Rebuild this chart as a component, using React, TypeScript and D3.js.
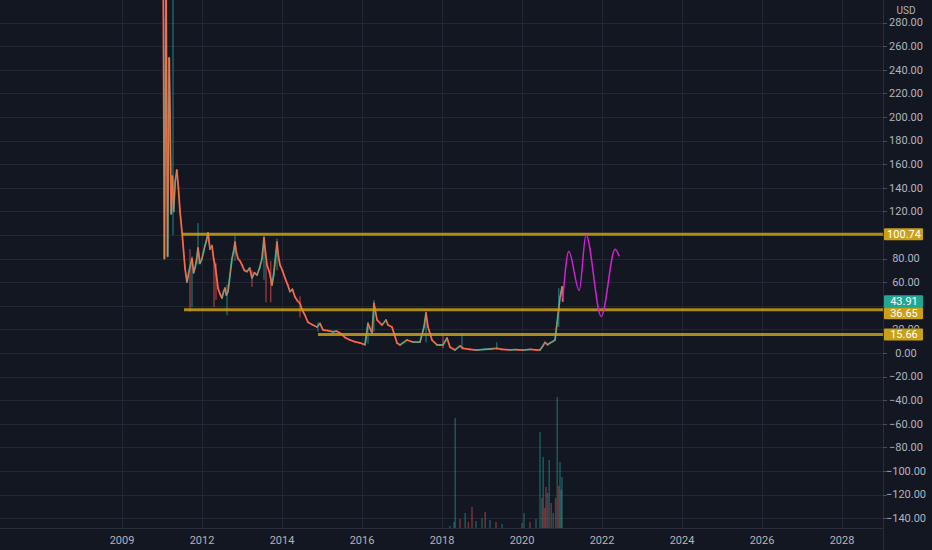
import React, { useEffect, useRef } from "react";
import * as d3 from "d3";

const WIDTH = 932;
const HEIGHT = 550;

// --- Price history (fractional year, close)
const priceYears = [
  2011.03, 2011.06, 2011.1, 2011.14, 2011.18, 2011.2, 2011.23, 2011.26, 2011.29, 2011.33,
  2011.37, 2011.41, 2011.45, 2011.5, 2011.575, 2011.625, 2011.68, 2011.75, 2011.79, 2011.825,
  2011.86, 2011.9, 2011.95, 2012.0, 2012.04, 2012.075, 2012.11, 2012.15, 2012.2, 2012.25,
  2012.29, 2012.325, 2012.36, 2012.4, 2012.45, 2012.5, 2012.54, 2012.575, 2012.61, 2012.65,
  2012.7, 2012.75, 2012.79, 2012.825, 2012.86, 2012.9, 2012.95, 2013.0, 2013.06, 2013.125,
  2013.19, 2013.25, 2013.31, 2013.375, 2013.44, 2013.5, 2013.55, 2013.59, 2013.625, 2013.69,
  2013.75, 2013.79, 2013.825, 2013.875, 2013.91, 2013.95, 2014.01, 2014.075, 2014.14, 2014.2,
  2014.26, 2014.325, 2014.39, 2014.45, 2014.51, 2014.575, 2014.65, 2014.76, 2014.875, 2014.95,
  2015.025, 2015.15, 2015.275, 2015.36, 2015.45, 2015.58, 2015.7, 2015.83, 2015.95, 2016.075,
  2016.15, 2016.25, 2016.3, 2016.375, 2016.5, 2016.6, 2016.65, 2016.75, 2016.875, 2016.95,
  2017.125, 2017.275, 2017.45, 2017.55, 2017.6, 2017.65, 2017.75, 2017.875, 2018.025, 2018.125,
  2018.2, 2018.325, 2018.45, 2018.525, 2018.7, 2018.875, 2019.05, 2019.2, 2019.37, 2019.5,
  2019.7, 2019.85, 2020.025, 2020.2, 2020.35, 2020.45, 2020.52, 2020.575, 2020.64, 2020.7,
  2020.78, 2020.825, 2020.875, 2020.92, 2020.95, 2020.98, 2021.0, 2021.02,
];
const priceCloses = [
  330, 80, 320, 82, 250, 205, 118, 150, 120, 145,
  155, 140, 120, 102.5, 72, 60, 70, 80, 68, 72,
  78, 89, 76, 80, 86, 91, 95, 101.7, 88, 91,
  80, 74.6, 66, 55, 50, 46.6, 52, 55, 49, 52,
  66, 80, 86, 94, 85, 80, 78, 74.6, 70, 69,
  72, 63.6, 68, 66, 72, 80, 97.5, 84, 74.6, 68,
  57.6, 66, 77, 94, 82, 74.6, 70, 63.6, 58, 52,
  54, 47.5, 44, 42, 36, 32, 26, 24, 22, 25,
  19.5, 19, 18, 18.5, 17, 13, 11, 9.5, 8.5, 7,
  25, 17, 42, 28, 23.7, 28, 23.7, 22, 8.5, 6.8,
  11, 9.3, 9.3, 22, 34, 22, 11, 6.8, 6.8, 12.7,
  5, 2.5, 6, 4, 3, 2.5, 3, 3.4, 4, 3,
  2.6, 2.8, 2.5, 3, 2.7, 2.5, 6, 9, 7, 8.5,
  10, 11, 25, 38, 47, 52, 56, 43.91,
];

// --- Long wicks (fractional year, low, high, up candle?)
const wickYears = [
  2011.275, 2011.7, 2011.75, 2011.9, 2012.3, 2012.35, 2012.625, 2012.825, 2013.25, 2013.55,
  2013.6, 2013.72, 2013.875, 2014.45, 2014.9, 2016.15, 2016.3, 2017.6, 2018.025, 2018.5,
  2019.37, 2020.92,
];
const wickLows = [100, 35, 39, 75, 39, 45, 32, 78, 56, 62, 43, 43, 70, 30, 18, 8, 18, 9, 4, 3, 2.5, 22];
const wickHighs = [330, 88, 82, 110, 80, 76, 58, 100, 70, 100, 78, 78, 97, 48, 26, 26, 45, 35, 15, 17, 9, 55];
const wickUp = [
  true, false, true, true, false, false, true, true, false, true,
  false, false, true, false, true, true, true, true, false, true,
  true, true,
];

// --- Volume (fractional year, volume in thousands, up candle?)
const volumeYears = [
  2018.2, 2018.3, 2018.33, 2018.45, 2018.58, 2018.66, 2018.75, 2018.85, 2019.0, 2019.08,
  2019.2, 2019.35, 2019.5, 2020.0, 2020.05, 2020.2, 2020.35, 2020.45, 2020.5, 2020.53,
  2020.57, 2020.6, 2020.64, 2020.68, 2020.73, 2020.78, 2020.84, 2020.88, 2020.92, 2020.95,
  2020.98, 2021.0,
];
const volumeValues = [
  20, 60, 1100, 90, 150, 60, 210, 70, 100, 160,
  80, 60, 40, 50, 150, 60, 90, 960, 300, 710,
  200, 410, 350, 680, 250, 150, 300, 1310, 420, 660,
  380, 510,
];
const volumeUp = [
  true, true, true, false, true, false, false, true, true, false,
  true, false, true, true, true, false, true, true, false, true,
  false, false, true, true, false, true, false, true, false, true,
  true, true,
];

// --- Horizontal levels
const levelValues = [100.74, 36.65, 15.66];
const levelStartYears = [2011.5, 2011.55, 2014.9];
const lastPrice = 43.91;

// --- Projection sketch (magenta)
const projYears = [2021.02, 2021.17, 2021.43, 2021.6, 2021.98, 2022.33, 2022.43];
const projValues = [46, 86, 53, 100, 31, 88, 82];

// --- Axis ticks
const yearTicks = [2010, 2012, 2014, 2016, 2018, 2020, 2022, 2024, 2026, 2028];
const yearLabels = ["2009", "2012", "2014", "2016", "2018", "2020", "2022", "2024", "2026", "2028"];
const priceTicks = [-140, -120, -100, -80, -60, -40, -20, 0, 20, 40, 60, 80, 100, 120, 140, 160, 180, 200, 220, 240, 260, 280];

const App: React.FC = () => {
  const ref = useRef<SVGSVGElement | null>(null);

  useEffect(() => {
    if (!ref.current) return;
    const root = d3.select(ref.current);
    root.selectAll("*").remove();

    const plotRight = 883;
    const plotBottom = 528;
    const bg = "#131722";
    const grid = "#232733";
    const textColor = "#b2b5be";
    const upColor = "#26a69a";
    const downColor = "#ef5350";
    const gold = "#c9a017";
    const font = "Roboto, 'Noto Sans', sans-serif";
    const boxH = 12;

    const x = d3.scaleLinear().domain([2012, 2028]).range([202, 842]);
    const y = d3.scaleLinear().domain([0, 280]).range([353, 22.6]);
    const vol = d3.scaleLinear().domain([0, 1310]).range([plotBottom, 397]);

    root.attr("width", WIDTH).attr("height", HEIGHT);
    root.append("rect").attr("width", WIDTH).attr("height", HEIGHT).attr("fill", bg);

    const defs = root.append("defs");
    defs
      .append("clipPath")
      .attr("id", "plot-clip")
      .append("rect")
      .attr("width", plotRight)
      .attr("height", plotBottom);

    const plot = root.append("g").attr("clip-path", "url(#plot-clip)");

    // Grid
    plot
      .selectAll(".hgrid")
      .data(priceTicks)
      .join("line")
      .attr("x1", 0)
      .attr("x2", plotRight)
      .attr("y1", (d) => Math.round(y(d)) + 0.5)
      .attr("y2", (d) => Math.round(y(d)) + 0.5)
      .attr("stroke", grid);
    plot
      .selectAll(".vgrid")
      .data(yearTicks)
      .join("line")
      .attr("x1", (d) => Math.round(x(d)) + 0.5)
      .attr("x2", (d) => Math.round(x(d)) + 0.5)
      .attr("y1", 0)
      .attr("y2", plotBottom)
      .attr("stroke", grid);

    // Volume
    plot
      .selectAll(".vol")
      .data(volumeYears)
      .join("rect")
      .attr("x", (d) => x(d) - 0.75)
      .attr("width", 1.5)
      .attr("y", (d, i) => vol(volumeValues[i]))
      .attr("height", (d, i) => plotBottom - vol(volumeValues[i]))
      .attr("fill", (d, i) => (volumeUp[i] ? upColor : downColor))
      .attr("opacity", 0.45);

    // Wicks
    plot
      .selectAll(".wick")
      .data(wickYears)
      .join("line")
      .attr("x1", (d) => x(d))
      .attr("x2", (d) => x(d))
      .attr("y1", (d, i) => y(wickHighs[i]))
      .attr("y2", (d, i) => y(wickLows[i]))
      .attr("stroke", (d, i) => (wickUp[i] ? upColor : downColor))
      .attr("stroke-width", 1)
      .attr("opacity", 0.8);

    // Candle-ish segments
    const pts = priceYears.map((yr, i) => ({ yr, v: priceCloses[i] }));
    plot
      .selectAll(".seg")
      .data(pts.slice(1))
      .join("line")
      .attr("x1", (d, i) => x(pts[i].yr))
      .attr("y1", (d, i) => y(pts[i].v))
      .attr("x2", (d) => x(d.yr))
      .attr("y2", (d) => y(d.v))
      .attr("stroke", (d, i) => (d.v >= pts[i].v ? upColor : downColor))
      .attr("stroke-width", 1.8)
      .attr("stroke-linecap", "round");

    const line = d3
      .line<{ yr: number; v: number }>()
      .x((d) => x(d.yr))
      .y((d) => y(d.v));
    plot
      .append("path")
      .datum(pts)
      .attr("d", line)
      .attr("fill", "none")
      .attr("stroke", "#f57f3a")
      .attr("stroke-width", 1)
      .attr("opacity", 0.75);

    // Levels
    plot
      .selectAll(".level")
      .data(levelValues)
      .join("line")
      .attr("x1", (d, i) => x(levelStartYears[i]))
      .attr("x2", plotRight)
      .attr("y1", (d) => y(d))
      .attr("y2", (d) => y(d))
      .attr("stroke", gold)
      .attr("stroke-width", 3)
      .attr("opacity", 0.85);

    // Projection
    const proj = d3
      .line<number>()
      .x((d, i) => x(projYears[i]))
      .y((d) => y(d))
      .curve(d3.curveMonotoneX);
    plot
      .append("path")
      .datum(projValues)
      .attr("d", proj)
      .attr("fill", "none")
      .attr("stroke", "#d420d4")
      .attr("stroke-width", 1.5);

    // Axis borders
    root
      .append("line")
      .attr("x1", plotRight + 0.5)
      .attr("x2", plotRight + 0.5)
      .attr("y1", 0)
      .attr("y2", HEIGHT)
      .attr("stroke", "#2a2e39");
    root
      .append("line")
      .attr("x1", 0)
      .attr("x2", plotRight)
      .attr("y1", plotBottom + 0.5)
      .attr("y2", plotBottom + 0.5)
      .attr("stroke", "#2a2e39");

    // Price boxes, pushed apart like the price scale does
    const boxes = [
      { v: lastPrice, color: "#22a892" },
      ...levelValues.map((v) => ({ v, color: gold })),
    ]
      .map((b) => ({ ...b, cy: y(b.v) }))
      .sort((a, b) => a.cy - b.cy);
    for (let i = 1; i < boxes.length; i++) {
      if (boxes[i].cy - boxes[i - 1].cy < boxH) boxes[i].cy = boxes[i - 1].cy + boxH;
    }

    // a tick label is dropped when the boxes hide all of it
    const hidden = (cy: number) => {
      const top = cy - 4;
      const bottom = cy + 4;
      let pos = top;
      for (const b of boxes) {
        const b0 = b.cy - boxH / 2;
        const b1 = b.cy + boxH / 2;
        if (b0 <= pos + 0.01 && b1 > pos) pos = b1;
      }
      return pos >= bottom;
    };
    const visibleTicks = priceTicks.filter((d) => !hidden(y(d)));

    // labels half hidden by a box only show the part between boxes
    const gapClip = defs.append("clipPath").attr("id", "gap-clip");
    gapClip.append("rect").attr("x", plotRight).attr("y", 0).attr("width", 60).attr("height", boxes[0].cy - boxH / 2);
    boxes.forEach((b, i) => {
      const top = b.cy + boxH / 2;
      const next = i + 1 < boxes.length ? boxes[i + 1].cy - boxH / 2 : HEIGHT;
      if (next > top) {
        gapClip.append("rect").attr("x", plotRight).attr("y", top).attr("width", 60).attr("height", next - top);
      }
    });

    // Price axis
    const axis = root.append("g").attr("font-family", font).attr("font-size", 11);
    axis
      .selectAll(".ptick")
      .data(priceTicks)
      .join("line")
      .attr("x1", plotRight)
      .attr("x2", plotRight + 4)
      .attr("y1", (d) => Math.round(y(d)) + 0.5)
      .attr("y2", (d) => Math.round(y(d)) + 0.5)
      .attr("stroke", "#4a4e59");
    axis
      .append("g")
      .attr("clip-path", "url(#gap-clip)")
      .selectAll(".plabel")
      .data(visibleTicks)
      .join("text")
      .attr("x", 906)
      .attr("y", (d) => y(d))
      .attr("dy", "0.35em")
      .attr("text-anchor", "middle")
      .attr("fill", textColor)
      .text((d) => d.toFixed(2).replace("-", "\u2212"));
    axis
      .append("text")
      .attr("x", 906)
      .attr("y", 10)
      .attr("dy", "0.35em")
      .attr("text-anchor", "middle")
      .attr("font-size", 10)
      .attr("fill", textColor)
      .text("USD");

    const boxG = axis.selectAll(".box").data(boxes).join("g");
    boxG
      .append("rect")
      .attr("x", plotRight + 1)
      .attr("y", (d) => d.cy - boxH / 2)
      .attr("width", 39)
      .attr("height", boxH)
      .attr("rx", 1)
      .attr("fill", (d) => d.color);
    boxG
      .append("text")
      .attr("x", 904)
      .attr("y", (d) => d.cy)
      .attr("dy", "0.35em")
      .attr("text-anchor", "middle")
      .attr("fill", "#ffffff")
      .text((d) => d.v.toFixed(2));

    // Time axis
    axis
      .selectAll(".tlabel")
      .data(yearTicks)
      .join("text")
      .attr("x", (d) => x(d))
      .attr("y", 540)
      .attr("dy", "0.35em")
      .attr("text-anchor", "middle")
      .attr("fill", textColor)
      .text((d, i) => yearLabels[i]);

    return () => {
      root.selectAll("*").remove();
    };
  }, []);

  return (
    <div style={{ position: "fixed", left: 0, top: 0, width: WIDTH, height: HEIGHT }}>
      <svg ref={ref} style={{ display: "block" }} />
    </div>
  );
};

export default App;
